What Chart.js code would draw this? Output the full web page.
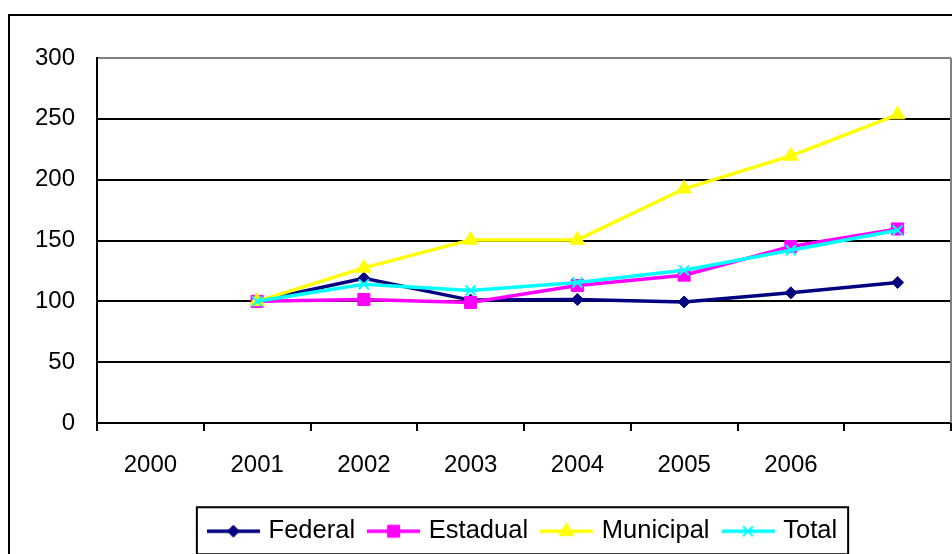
<!DOCTYPE html>
<html>
<head>
<meta charset="utf-8">
<script src="https://cdn.jsdelivr.net/npm/chart.js@4.4.1/dist/chart.umd.min.js"></script>
<style>
html, body { margin: 0; padding: 0; background: #fff; }
canvas { display: block; }
</style>
</head>
<body>
<canvas id="chart" width="952" height="554"></canvas>
<script>
// categories (the last slot has no label in the original)
var years = ['2000', '2001', '2002', '2003', '2004', '2005', '2006', ''];

// series values
var federal   = [null, 100, 119, 101, 101.5, 99.5, 107, 115.5];
var estadual  = [null, 100, 101.5, 99, 113, 121.5, 145, 159.5];
var municipal = [null, 100, 127.5, 150.5, 150.5, 192.5, 219.5, 253.5];
var total     = [null, 100, 114, 109, 115.5, 125.5, 142, 158.5];

var yTicks = [0, 50, 100, 150, 200, 250, 300];

var FONT = "'Liberation Sans', Arial, sans-serif";

/*
############################## Legend symbols ##############################
*/
function make_symbol(color, style, radius, borderWidth) {
    var c = document.createElement('canvas');
    c.width = 53;
    c.height = 22;
    var g = c.getContext('2d');
    g.strokeStyle = color;
    g.lineWidth = 3.5;
    g.beginPath();
    g.moveTo(0, 11);
    g.lineTo(53, 11);
    g.stroke();
    g.fillStyle = color;
    g.lineWidth = borderWidth;
    Chart.helpers.drawPoint(g, {
        pointStyle: style,
        radius: radius,
        rotation: 0,
        borderWidth: borderWidth
    }, 26.5, 11);
    return c;
}

/*
############################## Frame plugin ##############################
*/
var framePlugin = {
    id: 'frame',
    afterDraw: function(chart) {
        var ctx = chart.ctx;
        var area = chart.chartArea;
        ctx.save();

        // outer chart border (only top and left are visible)
        ctx.strokeStyle = '#000';
        ctx.lineWidth = 2;
        ctx.beginPath();
        ctx.moveTo(9, chart.height);
        ctx.lineTo(9, 15);
        ctx.lineTo(chart.width, 15);
        ctx.stroke();

        // grey right side of the plot area
        ctx.strokeStyle = '#808080';
        ctx.beginPath();
        ctx.moveTo(area.right, area.top);
        ctx.lineTo(area.right, area.bottom);
        ctx.stroke();

        // box round the legend
        var boxes = chart.legend.legendHitBoxes;
        if (boxes && boxes.length) {
            var first = boxes[0];
            var last = boxes[boxes.length - 1];
            var mid = first.top + first.height / 2;
            var left = first.left - 14;
            var right = last.left + last.width + 11;
            ctx.strokeStyle = '#000';
            ctx.lineWidth = 2;
            ctx.strokeRect(left, mid - 24, right - left, 47);
        }
        ctx.restore();
    }
};

function make_dataset(label, data, color, style, radius, borderWidth, order) {
    return {
        label: label,
        data: data,
        borderColor: color,
        backgroundColor: color,
        borderWidth: 3.5,
        pointStyle: style,
        pointRadius: radius,
        pointHoverRadius: radius,
        pointBorderWidth: borderWidth,
        pointBackgroundColor: color,
        pointBorderColor: color,
        tension: 0,
        order: order,
        symbol: make_symbol(color, style, radius, borderWidth)
    };
}

var datasets = [
    make_dataset('Federal', federal, '#000080', 'rectRot', 6, 1, 3),
    make_dataset('Estadual', estadual, '#FF00FF', 'rect', 8.5, 1, 2),
    make_dataset('Municipal', municipal, '#FFFF00', 'triangle', 8.5, 1, 1),
    make_dataset('Total', total, '#00FFFF', 'crossRot', 7, 2, 0)
];

new Chart(document.getElementById('chart'), {
    type: 'line',
    data: {
        labels: years,
        datasets: datasets
    },
    options: {
        responsive: false,
        animation: false,
        layout: {
            autoPadding: false,
            padding: { top: 58, right: 1, bottom: 0, left: 0 }
        },
        scales: {
            x: {
                offset: true,
                grid: {
                    offset: true,
                    drawOnChartArea: false,
                    drawTicks: true,
                    tickLength: 8,
                    color: '#000',
                    lineWidth: 2
                },
                border: { display: true, color: '#000', width: 2 },
                ticks: {
                    color: '#000',
                    padding: 19.5,
                    maxRotation: 0,
                    autoSkip: false,
                    font: { family: FONT, size: 24 }
                },
                afterFit: function(scale) {
                    scale.height = 79.5;
                    scale.paddingLeft = 0;
                    scale.paddingRight = 0;
                }
            },
            y: {
                min: 0,
                max: 300,
                afterBuildTicks: function(scale) {
                    scale.ticks = yTicks.map(function(v) { return { value: v }; });
                },
                grid: {
                    drawTicks: false,
                    lineWidth: 2,
                    color: function(context) {
                        return context.tick && context.tick.value === 300 ? '#808080' : '#000';
                    }
                },
                border: { display: true, color: '#000', width: 2 },
                ticks: {
                    color: '#000',
                    padding: 22,
                    font: { family: FONT, size: 24 }
                },
                afterFit: function(scale) { scale.width = 97; }
            }
        },
        plugins: {
            tooltip: { enabled: false },
            legend: {
                position: 'bottom',
                fullSize: false,
                labels: {
                    usePointStyle: true,
                    pointStyleWidth: 45,
                    boxHeight: 22,
                    padding: 16,
                    color: '#000',
                    font: { family: FONT, size: 25.5 },
                    generateLabels: function(chart) {
                        return chart.data.datasets.map(function(ds, i) {
                            return {
                                text: ds.label,
                                pointStyle: ds.symbol,
                                fillStyle: ds.borderColor,
                                strokeStyle: ds.borderColor,
                                lineWidth: 0,
                                fontColor: '#000',
                                datasetIndex: i
                            };
                        });
                    }
                }
            }
        }
    },
    plugins: [framePlugin]
});
</script>
</body>
</html>
